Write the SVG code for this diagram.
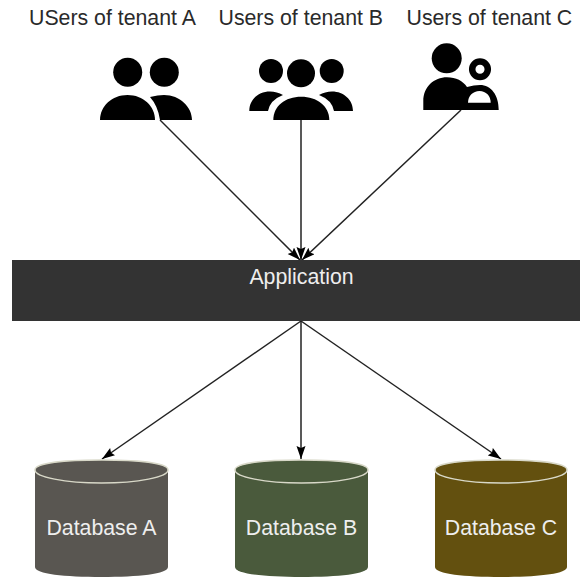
<svg xmlns="http://www.w3.org/2000/svg" width="580" height="578" viewBox="0 0 580 578">
<style>
text{font-family:"Liberation Sans",Arial,sans-serif}
.t{font-size:21.3px;fill:#2a2a2a}
.l{font-size:21.3px;fill:#eee;text-anchor:middle}
.e{fill:none;stroke:#222;stroke-width:1.5}
.rim{fill:none;stroke:#d8d8c8;stroke-width:1.5}
.k{fill:#000}
</style>
<defs><marker id="a" markerWidth="14" markerHeight="10" refX="13" refY="4.500" orient="auto" markerUnits="userSpaceOnUse"><path d="M0 0L13 4.500L0 9L2 4.500z" fill="#000"/></marker></defs>
<rect width="580" height="578" fill="#fff"/>
<g id="connectors">
<path class="e" marker-end="url(#a)" d="M160 120L300 260"/>
<path class="e" marker-end="url(#a)" d="M301 120L301 260"/>
<path class="e" marker-end="url(#a)" d="M461 110L302 260"/>
<path class="e" marker-end="url(#a)" d="M301 321L102 459"/>
<path class="e" marker-end="url(#a)" d="M301 321L301 459"/>
<path class="e" marker-end="url(#a)" d="M301 321L501 459"/>
</g>
<g id="tenant-a"><text class="t" x="29" y="24.500">USers of tenant A</text>
<circle class="k" cx="127.700" cy="72.300" r="14.500"/><circle class="k" cx="164.300" cy="72.300" r="14.500"/>
<path class="k" d="M150 97Q158 95 164 95C180 95 192 107 192 120H160Q158 106 150 97Z"/>
<path class="k" d="M100 120C100 106 112 95 127.500 95C143 95 155 106 155 120Z"/></g>
<g id="tenant-b"><text class="t" x="218.500" y="24.500">Users of tenant B</text>
<circle class="k" cx="271" cy="71" r="12"/><circle class="k" cx="301" cy="73.300" r="14"/><circle class="k" cx="331.700" cy="71" r="12"/>
<path class="k" d="M249.300 111C249.300 100 258 91.500 270 91.500Q277 91.500 283 95Q270 100 268 111Z"/>
<path class="k" d="M353 111C353 100 344 91.500 332 91.500Q325 91.500 319 95Q332 100 334 111Z"/>
<path class="k" d="M273.300 120C273.300 106 285 96.700 301.300 96.700C317 96.700 329.300 106 329.300 120Z"/></g>
<g id="tenant-c"><text class="t" x="406.500" y="24.500">Users of tenant C</text>
<circle class="k" cx="446.700" cy="58.300" r="15"/>
<path class="k" d="M423.300 110V101C423.300 87 434 77.300 447 77.300C456 77.300 463 81 467 87Q474 85 480 85C491 85 498.700 95 498.700 110Z"/>
<path d="M468 102.700C468 96 473 91 479.500 91C486 91 490.700 96 490.700 102.700Z" fill="#fff"/>
<circle cx="480" cy="69.300" r="7.800" fill="none" stroke="#000" stroke-width="6.500"/></g>
<g id="application"><rect x="12" y="260" width="568" height="61" fill="#333"/>
<text class="l" x="301.500" y="284">Application</text></g>
<g id="database-a"><path d="M35 470C35 463 65 460 101.500 460S168 463 168 470V567C168 574 138 577 101.500 577S35 574 35 567Z" fill="#595651"/><path class="rim" d="M35 470C35 477 65 483 101.500 483S168 477 168 470C168 463 138 460 101.500 460S35 463 35 470Z"/>
<text class="l" x="101.500" y="535">Database A</text></g>
<g id="database-b"><path d="M235 470C235 463 265 460 301.500 460S368 463 368 470V567C368 574 338 577 301.500 577S235 574 235 567Z" fill="#4a5a3c"/><path class="rim" d="M235 470C235 477 265 483 301.500 483S368 477 368 470C368 463 338 460 301.500 460S235 463 235 470Z"/>
<text class="l" x="301.500" y="535">Database B</text></g>
<g id="database-c"><path d="M435 470C435 463 465 460 501 460S567 463 567 470V567C567 574 537 577 501 577S435 574 435 567Z" fill="#63500f"/><path class="rim" d="M435 470C435 477 465 483 501 483S567 477 567 470C567 463 537 460 501 460S435 463 435 470Z"/>
<text class="l" x="501" y="535">Database C</text></g>
</svg>
